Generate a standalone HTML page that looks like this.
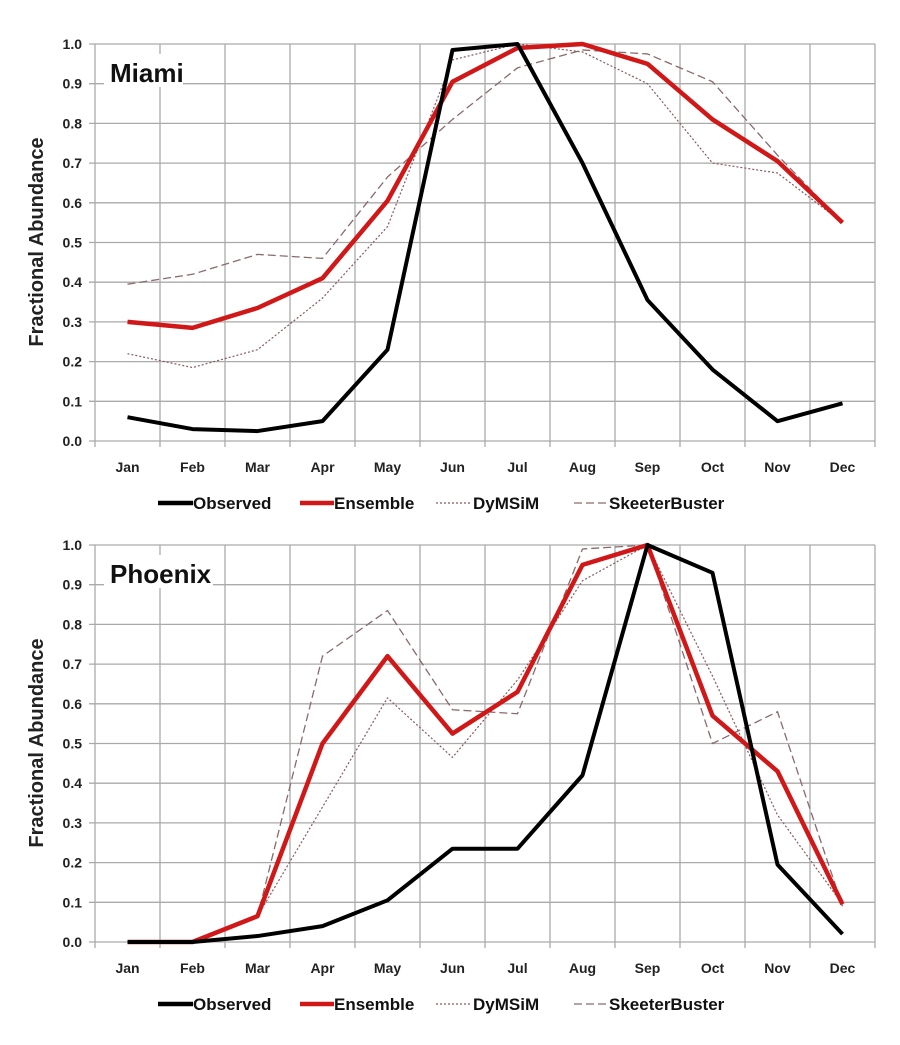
<!DOCTYPE html>
<html><head><meta charset="utf-8"><style>body{margin:0;background:#fff}svg{display:block}text{font-family:"Liberation Sans",sans-serif;font-weight:bold}</style></head>
<body>
<svg width="900" height="1045" xmlns="http://www.w3.org/2000/svg" id="s"></svg>
<script>
const S=document.getElementById('s');let h='';
function chart(top,name,d){
 const y0=top+397,sc=397,X=i=>127.5+65*i,Y=v=>y0-v*sc;
 for(let k=0;k<=10;k++){const y=Y(k/10);h+=`<line x1="89" x2="875" y1="${y}" y2="${y}" stroke="#aaa" stroke-width="1.3"/>`;
  h+=`<text x="82" y="${y+5}" font-size="14" text-anchor="end" fill="#222">${(k/10).toFixed(1)}</text>`;}
 for(let i=0;i<=12;i++){const x=95+65*i;h+=`<line x1="${x}" x2="${x}" y1="${Y(1)}" y2="${y0+6}" stroke="#aaa" stroke-width="1.3"/>`;}
 const M=['Jan','Feb','Mar','Apr','May','Jun','Jul','Aug','Sep','Oct','Nov','Dec'];
 M.forEach((m,i)=>h+=`<text x="${X(i)}" y="${y0+31}" font-size="14" text-anchor="middle" fill="#222">${m}</text>`);
 h+=`<rect x="104" y="${top+10}" width="${name.length*15+4}" height="33" fill="#fff"/>`;
 h+=`<text x="110" y="${top+38}" font-size="26" fill="#111">${name}</text>`;
 h+=`<text transform="translate(43,${top+198}) rotate(-90)" font-size="20" text-anchor="middle" fill="#222">Fractional Abundance</text>`;
 const st=[['#8a5a5a',1.2,'2,2'],['#8a6a6a',1.3,'8,4'],['#d01818',4.5,''],['#000',4,'']];
 [d[2],d[3],d[1],d[0]].forEach((s,j)=>{const p=s.map((v,i)=>X(i)+','+Y(v)).join(' ');
  h+=`<polyline points="${p}" fill="none" stroke="${st[j][0]}" stroke-width="${st[j][1]}" stroke-dasharray="${st[j][2]}" stroke-linejoin="round"/>`;});
 const ly=top+459;
 h+=`<line x1="158" x2="193" y1="${ly}" y2="${ly}" stroke="#000" stroke-width="4.5"/><text x="193" y="${ly+6}" font-size="17" fill="#111">Observed</text>`;
 h+=`<line x1="300" x2="334" y1="${ly}" y2="${ly}" stroke="#d01818" stroke-width="4.5"/><text x="334" y="${ly+6}" font-size="17" fill="#111">Ensemble</text>`;
 h+=`<line x1="436" x2="471" y1="${ly}" y2="${ly}" stroke="#8a5a5a" stroke-width="1.2" stroke-dasharray="2,2"/><text x="473" y="${ly+6}" font-size="17" fill="#111">DyMSiM</text>`;
 h+=`<line x1="574" x2="608" y1="${ly}" y2="${ly}" stroke="#8a6a6a" stroke-width="1.3" stroke-dasharray="8,4"/><text x="609" y="${ly+6}" font-size="17" fill="#111">SkeeterBuster</text>`;
}
chart(44,'Miami',[
[.06,.03,.025,.05,.23,.985,1.0,.7,.355,.18,.05,.095],
[.30,.285,.335,.41,.605,.905,.99,1.0,.95,.81,.705,.55],
[.22,.185,.23,.36,.54,.96,1.0,.98,.90,.70,.675,.55],
[.395,.42,.47,.46,.665,.81,.94,.985,.975,.905,.72,.55]]);
chart(545,'Phoenix',[
[0,0,.015,.04,.105,.235,.235,.42,1.0,.93,.195,.02],
[0,0,.065,.50,.72,.525,.63,.95,1.0,.57,.43,.095],
[0,0,.065,.34,.615,.465,.66,.91,1.0,.67,.32,.095],
[0,0,.065,.72,.835,.585,.575,.99,1.0,.50,.58,.09]]);
S.innerHTML=h;
</script>
</body></html>
